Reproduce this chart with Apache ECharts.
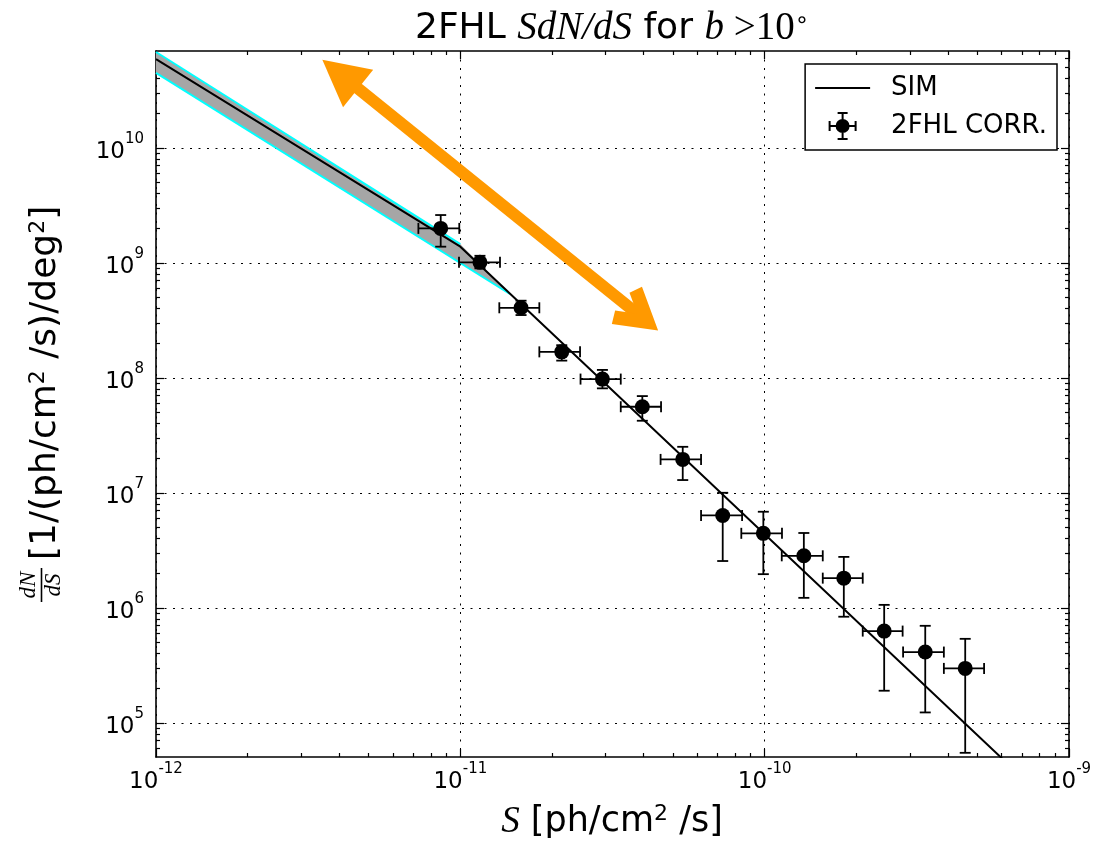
<!DOCTYPE html>
<html>
<head>
<meta charset="utf-8">
<script src="https://cdn.jsdelivr.net/npm/echarts@6/dist/echarts.min.js"></script>
<style>
html, body { margin: 0; padding: 0; background: #fff; }
#main { width: 1113px; height: 848px; }
</style>
</head>
<body>
<div id="main"></div>
<script>
// axis ranges / tick values
var xRange = [1e-12, 1e-9];
var yRange = [5.04e4, 6.94e10];
var xMajor = [1e-12, 1e-11, 1e-10, 1e-9];
var yMajor = [1e5, 1e6, 1e7, 1e8, 1e9, 1e10];

// 2FHL corrected points (S, dN/dS) with error bars
var fluxS  = [8.62e-12, 1.16e-11, 1.583e-11, 2.154e-11, 2.93e-11, 3.963e-11, 5.38e-11, 7.28e-11, 9.9e-11, 1.345e-10, 1.82e-10, 2.47e-10, 3.37e-10, 4.56e-10];
var fluxLo = [7.28e-12, 9.9e-12, 1.343e-11, 1.818e-11, 2.483e-11, 3.366e-11, 4.55e-11, 6.18e-11, 8.38e-11, 1.138e-10, 1.552e-10, 2.10e-10, 2.85e-10, 3.88e-10];
var fluxHi = [9.92e-12, 1.35e-11, 1.818e-11, 2.474e-11, 3.366e-11, 4.566e-11, 6.18e-11, 8.43e-11, 1.14e-10, 1.552e-10, 2.10e-10, 2.84e-10, 3.88e-10, 5.26e-10];
var dnds   = [1.99e9, 1.008e9, 4.06e8, 1.68e8, 9.74e7, 5.6e7, 1.95e7, 6.35e6, 4.44e6, 2.83e6, 1.81e6, 6.27e5, 4.12e5, 2.97e5];
var dndsLo = [1.38e9, 8.94e8, 3.51e8, 1.41e8, 8.09e7, 4.23e7, 1.29e7, 2.55e6, 1.96e6, 1.22e6, 8.36e5, 1.90e5, 1.23e5, 5.48e4];
var dndsHi = [2.60e9, 1.15e9, 4.68e8, 1.92e8, 1.17e8, 6.93e7, 2.51e7, 1.0e7, 6.84e6, 4.47e6, 2.77e6, 1.06e6, 6.97e5, 5.37e5];

// SIM broken power law
var simX = [1e-12, 1e-11, 1e-9];
var simY = [5.9e10, 1.38e9, 1.38e4];

// uncertainty band
var bandUpperX = [1e-12, 1e-11, 1.455e-11];
var bandUpperY = [6.8e10, 1.45e9, 5.35e8];
var bandLowerX = [1e-12, 1.455e-11];
var bandLowerY = [4.47e10, 5.35e8];

// orange double arrow (shaft ends)
var arrowX = [4.03e-12, 3.90e-11];
var arrowY = [4.37e10, 3.44e8];

// minor ticks 2..9 per decade
function minors(d0, d1) {
    var out = [];
    for (var d = d0; d < d1; d++) {
        for (var k = 2; k <= 9; k++) out.push(k * Math.pow(10, d));
    }
    return out;
}
var xMinor = minors(-12, -9);
var yMinor = minors(4, 11);

var chart = echarts.init(document.getElementById('main'));

function powLabel(v) {
    var e = Math.round(Math.log(v) / Math.LN10);
    return '{b|10}{e|' + e + '}';
}

var sans = 'DejaVu Sans';
var serif = 'Liberation Serif';

function logAxis(range, pos, major, minor, isMajor, withLabel, isX) {
    var ax = {
        type: 'log',
        logBase: 10,
        min: range[0],
        max: range[1],
        position: pos,
        axisLine: { show: isMajor, onZero: false, lineStyle: { color: '#000', width: 1.6 } },
        axisTick: {
            show: true,
            inside: true,
            length: isMajor ? 8 : 4,
            customValues: isMajor ? major : minor,
            lineStyle: { color: '#000', width: 1.2 }
        },
        axisLabel: { show: false },
        splitLine: { show: false }
    };
    if (withLabel) {
        ax.axisLabel = {
            show: true,
            customValues: major,
            formatter: powLabel,
            margin: isX ? 5 : 12,
            color: '#000',
            rich: {
                b: { fontFamily: sans, fontSize: 23, color: '#000', verticalAlign: 'bottom', padding: [9, 0, 0, 0] },
                e: { fontFamily: sans, fontSize: 15, color: '#000', verticalAlign: 'top' }
            }
        };
        ax.splitLine = { show: true, lineStyle: { color: '#000', width: 1, type: [2, 6.5] } };
    }
    return ax;
}

var errRows = fluxS.map(function (x, i) {
    return [x, dnds[i], fluxLo[i], fluxHi[i], dndsLo[i], dndsHi[i]];
});

var lineIcon = 'path://M0,0H55V2H0Z';
var errIcon = 'path://M0,13H28V15H0Z M0,9H2V19H0Z M26,9H28V19H26Z M13,0H15V28H13Z M9,0H19V2H9Z M9,26H19V28H9Z M7,14A7,7 0 1,1 21,14A7,7 0 1,1 7,14Z';
var triHead = 'path://M22,0L44,45L0,45Z';
var chevHead = 'path://M22,0L44,41.5L32.5,47.6L22,27.7L11.5,47.6L0,41.5Z';

chart.setOption({
    animation: false,
    grid: { left: 156, right: 44, top: 51, bottom: 91 },
    legend: {
        right: 56,
        top: 64,
        orient: 'vertical',
        padding: [10, 10, 10, 10],
        itemWidth: 55,
        itemHeight: 28,
        itemGap: 10,
        borderColor: '#000',
        borderWidth: 1.5,
        borderRadius: 0,
        backgroundColor: '#fff',
        selectedMode: false,
        textStyle: { fontFamily: sans, fontSize: 26, lineHeight: 28, color: '#000', padding: [0, 0, 0, 16] },
        data: [
            { name: 'SIM', icon: lineIcon },
            { name: '2FHL CORR.', icon: errIcon }
        ]
    },
    xAxis: [
        logAxis(xRange, 'bottom', xMajor, xMinor, true, true, true),
        logAxis(xRange, 'bottom', xMajor, xMinor, false, false, true),
        logAxis(xRange, 'top', xMajor, xMinor, true, false, true),
        logAxis(xRange, 'top', xMajor, xMinor, false, false, true)
    ],
    yAxis: [
        logAxis(yRange, 'left', yMajor, yMinor, true, true, false),
        logAxis(yRange, 'left', yMajor, yMinor, false, false, false),
        logAxis(yRange, 'right', yMajor, yMinor, true, false, false),
        logAxis(yRange, 'right', yMajor, yMinor, false, false, false)
    ],
    graphic: [
        {
            type: 'text', x: 612, y: 29,
            style: {
                text: '{a|2FHL }{m|SdN/dS}{a| for }{m|b}{r| >10}{s|∘}',
                align: 'center', verticalAlign: 'middle',
                rich: {
                    a: { fontFamily: sans, fontSize: 36, color: '#000' },
                    m: { fontFamily: serif, fontStyle: 'italic', fontSize: 39, color: '#000' },
                    r: { fontFamily: serif, fontSize: 39, color: '#000' },
                    s: { fontFamily: sans, fontSize: 23, color: '#000', verticalAlign: 'top' }
                }
            }
        },
        {
            type: 'text', x: 612, y: 822,
            style: {
                text: '{m|S} [ph/cm{s|2} /s]',
                align: 'center', verticalAlign: 'middle',
                fontFamily: sans, fontSize: 35, fill: '#000',
                rich: {
                    m: { fontFamily: serif, fontStyle: 'italic', fontSize: 37, color: '#000' },
                    s: { fontFamily: sans, fontSize: 22, color: '#000', verticalAlign: 'top' }
                }
            }
        },
        {
            type: 'group', x: 41.5, y: 585, rotation: Math.PI / 2,
            children: [
                {
                    type: 'line', shape: { x1: -17, y1: 0, x2: 17, y2: 0 },
                    style: { stroke: '#000', lineWidth: 1.6 }
                },
                {
                    type: 'text', x: 0, y: -1,
                    style: { text: 'dN', align: 'center', verticalAlign: 'bottom', fontFamily: serif, fontStyle: 'italic', fontSize: 23, fill: '#000' }
                },
                {
                    type: 'text', x: 0, y: 1,
                    style: { text: 'dS', align: 'center', verticalAlign: 'top', fontFamily: serif, fontStyle: 'italic', fontSize: 23, fill: '#000' }
                },
                {
                    type: 'text', x: 25, y: 4,
                    style: {
                        text: '[1/(ph/cm{s|2} /s)/deg{s|2}]',
                        align: 'left', verticalAlign: 'middle',
                        fontFamily: sans, fontSize: 36, fill: '#000',
                        rich: {
                            s: { fontFamily: sans, fontSize: 22, color: '#000', verticalAlign: 'top' }
                        }
                    }
                }
            ]
        }
    ],
    series: [
        {
            type: 'custom',
            name: 'band',
            silent: true,
            z: 1,
            data: [[bandUpperX[0], bandUpperY[0]]],
            renderItem: function (params, api) {
                var up = bandUpperX.map(function (x, i) { return api.coord([x, bandUpperY[i]]); });
                var lo = bandLowerX.map(function (x, i) { return api.coord([x, bandLowerY[i]]); });
                var poly = up.concat(lo.slice().reverse());
                return {
                    type: 'group',
                    children: [
                        { type: 'polygon', shape: { points: poly }, style: { fill: '#a6a6a6' } },
                        { type: 'polyline', shape: { points: up.slice(0, 2) }, style: { stroke: '#00ffff', lineWidth: 2, fill: null } },
                        { type: 'polyline', shape: { points: lo }, style: { stroke: '#00ffff', lineWidth: 2, fill: null } }
                    ]
                };
            }
        },
        {
            type: 'line',
            name: 'SIM',
            z: 3,
            symbol: 'none',
            lineStyle: { color: '#000', width: 2 },
            itemStyle: { color: '#000' },
            data: simX.map(function (x, i) { return [x, simY[i]]; })
        },
        {
            type: 'custom',
            name: 'errors',
            silent: true,
            z: 4,
            encode: { x: 0, y: 1 },
            data: errRows,
            renderItem: function (params, api) {
                var c = api.coord([api.value(0), api.value(1)]);
                var l = api.coord([api.value(2), api.value(1)]);
                var r = api.coord([api.value(3), api.value(1)]);
                var b = api.coord([api.value(0), api.value(4)]);
                var t = api.coord([api.value(0), api.value(5)]);
                var cap = 5.5;
                var st = { stroke: '#000', lineWidth: 1.8 };
                return {
                    type: 'group',
                    children: [
                        { type: 'line', shape: { x1: l[0], y1: c[1], x2: r[0], y2: c[1] }, style: st },
                        { type: 'line', shape: { x1: l[0], y1: c[1] - cap, x2: l[0], y2: c[1] + cap }, style: st },
                        { type: 'line', shape: { x1: r[0], y1: c[1] - cap, x2: r[0], y2: c[1] + cap }, style: st },
                        { type: 'line', shape: { x1: c[0], y1: t[1], x2: c[0], y2: b[1] }, style: st },
                        { type: 'line', shape: { x1: c[0] - cap, y1: t[1], x2: c[0] + cap, y2: t[1] }, style: st },
                        { type: 'line', shape: { x1: c[0] - cap, y1: b[1], x2: c[0] + cap, y2: b[1] }, style: st }
                    ]
                };
            }
        },
        {
            type: 'scatter',
            name: '2FHL CORR.',
            z: 5,
            symbol: 'circle',
            symbolSize: 15,
            itemStyle: { color: '#000', opacity: 1 },
            data: fluxS.map(function (x, i) { return [x, dnds[i]]; })
        },
        {
            type: 'line',
            name: 'arrow',
            z: 6,
            data: [],
            markLine: {
                silent: true,
                symbol: [triHead, chevHead],
                symbolSize: [48, 46],
                label: { show: false },
                emphasis: { disabled: true },
                itemStyle: { color: '#ff9900' },
                lineStyle: { color: '#ff9900', width: 12, type: 'solid', cap: 'butt' },
                data: [[
                    { coord: [arrowX[0], arrowY[0]] },
                    { coord: [arrowX[1], arrowY[1]] }
                ]]
            }
        }
    ]
});
</script>
</body>
</html>
